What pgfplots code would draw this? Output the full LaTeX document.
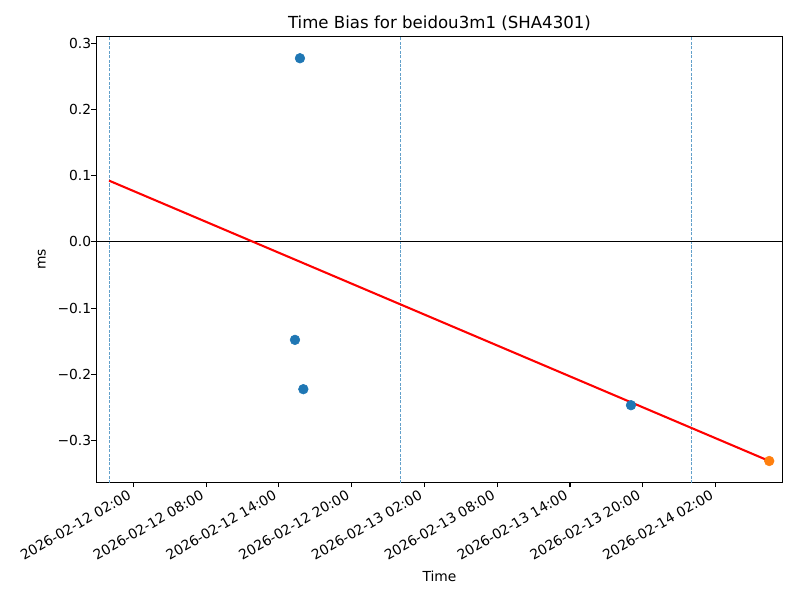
\documentclass[border=0pt]{standalone}
\usepackage{fontspec}
\setmainfont{DejaVu Sans}
\usepackage{pgfplots}
\pgfplotsset{compat=1.18}
\definecolor{c0}{HTML}{1F77B4}
\definecolor{c1}{HTML}{FF7F0E}
\begin{document}
\begin{tikzpicture}
\useasboundingbox (-69.6pt,-85.06pt) rectangle (508.6pt,348.5pt);
\begin{axis}[
  at={(0,0)}, anchor=south west, scale only axis,
  width=496.1pt, height=322.0pt,
  xmin=-1.05, xmax=55.54, ymin=-0.363, ymax=0.3101,
  axis line style={line width=0.8pt},
  tick align=outside, major tick length=3.5pt,
  tick style={black, line width=0.8pt},
  xtick pos=lower, ytick pos=left,
  xtick={2,8,14,20,26,32,38,44,50},
  xticklabels={2026-02-12 02:00,2026-02-12 08:00,2026-02-12 14:00,2026-02-12 20:00,2026-02-13 02:00,2026-02-13 08:00,2026-02-13 14:00,2026-02-13 20:00,2026-02-14 02:00},
  ytick={-0.3,-0.2,-0.1,0,0.1,0.2,0.3},
  yticklabels={−0.3,−0.2,−0.1,0.0,0.1,0.2,0.3},
  tick label style={font=\fontsize{10}{12}\selectfont},
  yticklabel style={anchor=east, inner sep=0pt},
  xticklabel style={xshift=-4.5pt, yshift=-1.5pt, rotate=30, anchor=north east, inner sep=0pt},
  title={Time Bias for beidou3m1 (SHA4301)},
  title style={font=\fontsize{12}{14}\selectfont, at={(axis description cs:0.5,1)}, anchor=base, inner sep=0pt},
  xlabel={Time},
  xlabel style={font=\fontsize{10}{12}\selectfont, at={(axis description cs:0.5,-0.223)}, anchor=base, inner sep=0pt},
  ylabel={ms},
  ylabel style={font=\fontsize{10}{12}\selectfont, at={(axis description cs:-0.074,0.5)}, anchor=base, inner sep=0pt},
  clip=true,
]
\addplot[c0!70, line width=0.5pt, dash pattern=on 2.2pt off 1.0pt, forget plot] coordinates {(0,-1) (0,1)};
\addplot[c0!70, line width=0.5pt, dash pattern=on 2.2pt off 1.0pt, forget plot] coordinates {(24,-1) (24,1)};
\addplot[c0!70, line width=0.5pt, dash pattern=on 2.2pt off 1.0pt, forget plot] coordinates {(48,-1) (48,1)};
\addplot[black, line width=0.7pt, forget plot] coordinates {(-5,0) (60,0)};
\addplot[red, line width=1.5pt, forget plot] coordinates {(0,0.0926) (54.43,-0.331)};
\addplot[only marks, mark=*, mark size=3.5pt, c0, mark options={draw=c0, fill=c0}] coordinates {
  (15.74,0.2775) (15.33,-0.148) (16.02,-0.2225) (43.03,-0.2467)
};
\addplot[only marks, mark=*, mark size=3.5pt, c1, mark options={draw=c1, fill=c1}] coordinates {
  (54.43,-0.331)
};
\end{axis}
\end{tikzpicture}
\end{document}
